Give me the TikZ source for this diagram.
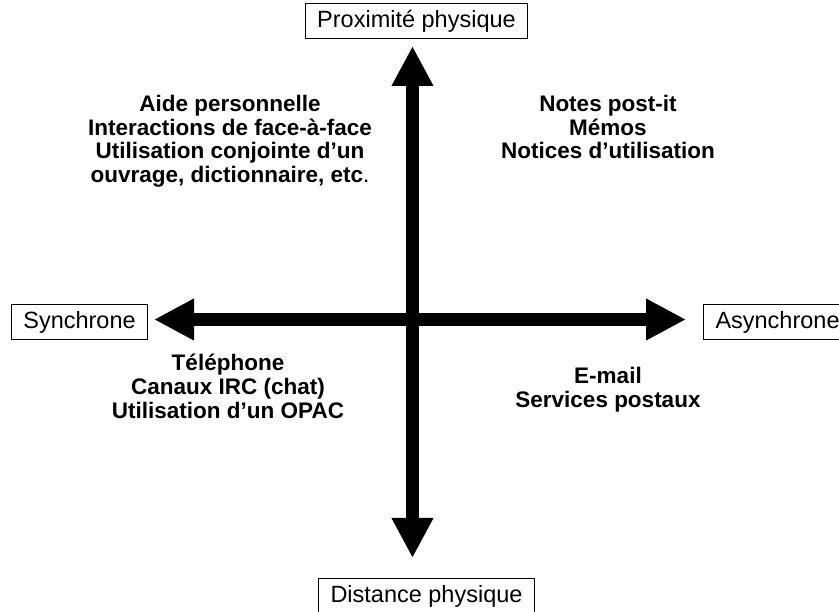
\documentclass[tikz,border=0pt]{standalone}
\usepackage{fontspec}
\setmainfont{Liberation Sans}
\usetikzlibrary{arrows.meta}

\begin{document}
\begin{tikzpicture}[x=1pt, y=-1pt,
	axisbox/.style={draw=black, line width=1pt, inner xsep=12pt, inner ysep=0pt, minimum height=35pt, font=\fontsize{23.5}{28}\selectfont},
	quadtext/.style={align=center, inner sep=0pt, anchor=north, font=\fontsize{22.5}{23.7}\selectfont\bfseries},
	axisarrow/.style={line width=13pt, {Triangle[length=40pt,width=39pt]}-{Triangle[length=40pt,width=39pt]}}]
	
	\useasboundingbox[fill=white] (0,0) rectangle (839,612);
	
	% geometry
	\def\cx{412.5}
	\def\cy{319.5}
	
	% axis labels
	\node[axisbox] (prox) at (416.5,21.5) {Proximité physique};
	\node[axisbox] (sync) at (79.5,322) {Synchrone};
	\node[axisbox, anchor=west] (async) at (703,322) {Asynchrone};
	\node[axisbox, anchor=north west] (dist) at (318,578) {Distance physique};
	
	% arrow ends
	\coordinate (up) at (\cx,46);
	\coordinate (down) at (\cx,558);
	\coordinate (left) at (154,\cy);
	\coordinate (right) at (686,\cy);
	
	\draw[axisarrow] (down) -- (up);
	\draw[axisarrow] (left) -- (right);
	
	% quadrants
	\node[quadtext] (face) at (230,95)
	{Aide personnelle\\Interactions de face-à-face\\Utilisation conjointe d’un\\ouvrage, dictionnaire, etc\textmd{.}};
	\node[quadtext] (memo) at (608,95)
	{Notes post-it\\Mémos\\Notices d’utilisation};
	\node[quadtext] (tel) at (228,354)
	{Téléphone\\Canaux IRC (chat)\\Utilisation d’un OPAC};
	\node[quadtext] (mail) at (608,367)
	{E-mail\\Services postaux};
	
\end{tikzpicture}
\end{document}
